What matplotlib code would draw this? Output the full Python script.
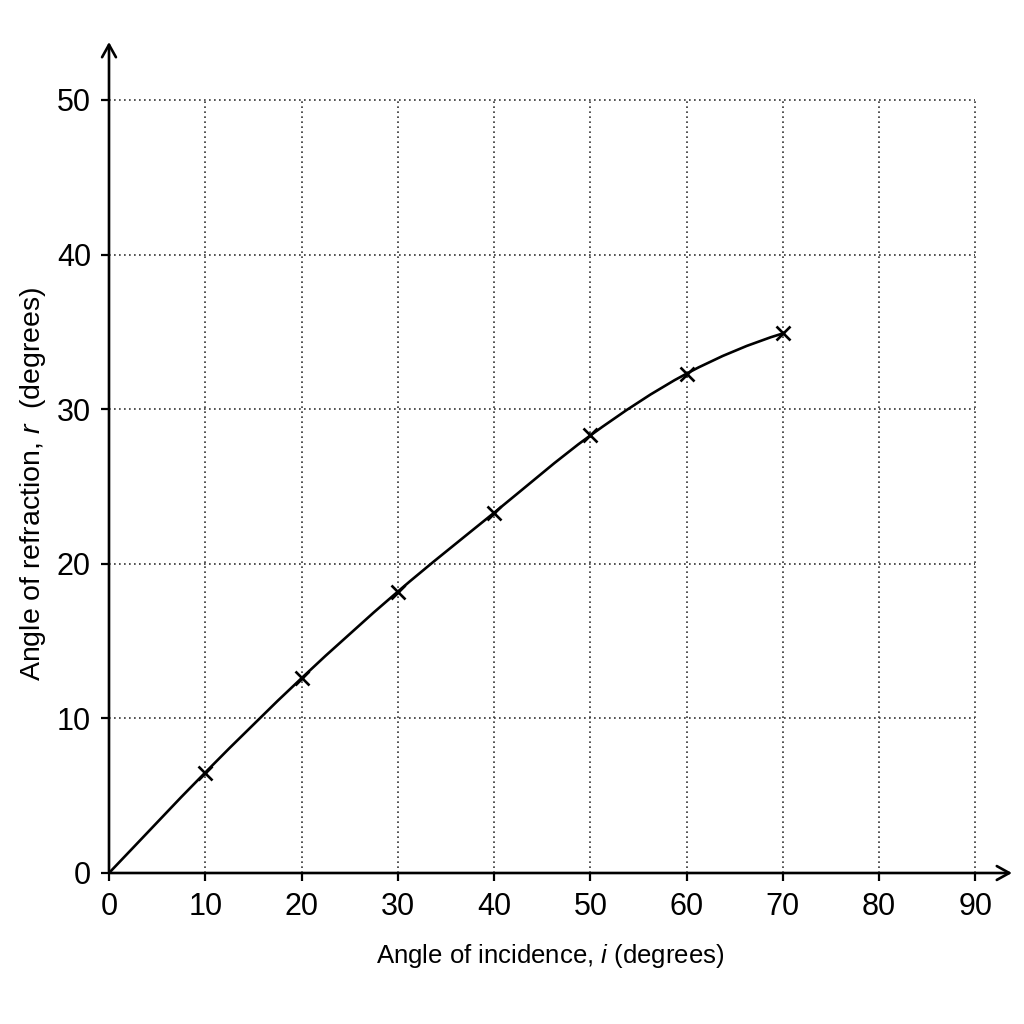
import numpy as np
import matplotlib
matplotlib.use('Agg')
import matplotlib.pyplot as plt
from matplotlib.path import Path
from matplotlib.patches import PathPatch

plt.rcParams['font.family'] = ['Liberation Sans', 'DejaVu Sans']
plt.rcParams['mathtext.fontset'] = 'custom'
plt.rcParams['mathtext.rm'] = 'Liberation Sans'
plt.rcParams['mathtext.it'] = 'Liberation Sans:italic'

# ========== ДАННЫЕ ==========
incidence = [10, 20, 30, 40, 50, 60, 70]
refraction = [6.5, 12.6, 18.2, 23.3, 28.3, 32.3, 34.9]
# кривая начинается в начале координат
curve_start = (0, 0)

x_ticks = [0, 10, 20, 30, 40, 50, 60, 70, 80, 90]
y_ticks = [0, 10, 20, 30, 40, 50]
x_label = r'Angle of incidence, $i$ (degrees)'
y_label = r'Angle of refraction, $r$  (degrees)'

# ========== ГРАФИК ==========
fig = plt.figure(figsize=(10.24, 10.24), dpi=100)
ax = fig.add_axes([109 / 1024, 151 / 1024, 903 / 1024, 831 / 1024])
ax.set_xlim(0, 93.8)
ax.set_ylim(0, 53.75)

for s in ax.spines.values():
    s.set_visible(False)

# сетка только до 90 / 50
grid_kw = dict(color='#333333', lw=1.2, linestyle=(0, (1, 2.0)), zorder=1)
for xv in x_ticks[1:]:
    ax.plot([xv, xv], [0, y_ticks[-1]], **grid_kw)
for yv in y_ticks[1:]:
    ax.plot([0, x_ticks[-1]], [yv, yv], **grid_kw)

# оси со стрелками
arrow_kw = dict(arrowstyle='->,head_length=0.9,head_width=0.5', lw=1.9, color='black',
                shrinkA=0, shrinkB=0)
ax.annotate('', xy=(93.8, 0), xytext=(0, 0), arrowprops=arrow_kw, annotation_clip=False)
ax.annotate('', xy=(0, 53.75), xytext=(0, 0), arrowprops=arrow_kw, annotation_clip=False)

# гладкая кривая (Эрмит -> Безье)
px = np.array([curve_start[0]] + incidence, dtype=float)
py = np.array([curve_start[1]] + refraction, dtype=float)
n = len(px)
tx = np.zeros(n)
ty = np.zeros(n)
for k in range(n):
    a = max(k - 1, 0)
    b = min(k + 1, n - 1)
    tx[k] = (px[b] - px[a]) / (b - a)
    ty[k] = (py[b] - py[a]) / (b - a)
tx[-1] = px[-1] - px[-2]
ty[-1] = 2 * (py[-1] - py[-2]) - ty[-2]
verts = [(px[0], py[0])]
codes = [Path.MOVETO]
for k in range(n - 1):
    c1 = (px[k] + tx[k] / 3, py[k] + ty[k] / 3)
    c2 = (px[k + 1] - tx[k + 1] / 3, py[k + 1] - ty[k + 1] / 3)
    verts += [c1, c2, (px[k + 1], py[k + 1])]
    codes += [Path.CURVE4] * 3
ax.add_patch(PathPatch(Path(verts, codes), fill=False, lw=1.9, edgecolor='black', zorder=3))

ax.plot(incidence, refraction, linestyle='none', marker='x', markersize=10,
        markeredgewidth=1.9, color='black', zorder=4)

# тики
ax.set_xticks(x_ticks)
ax.set_yticks(y_ticks)
ax.tick_params(axis='both', direction='out', length=6, width=1.6, labelsize=22, color='black')
ax.tick_params(axis='x', pad=8)
ax.tick_params(axis='y', pad=7)

# подписи осей
fig.text(550 / 1024, 1 - 956 / 1024, x_label, ha='center', va='center', fontsize=18.5)
fig.text(33 / 1024, 1 - 484 / 1024, y_label, ha='center', va='center', fontsize=20.5,
         rotation=90)

plt.savefig('out.png', dpi=100)
